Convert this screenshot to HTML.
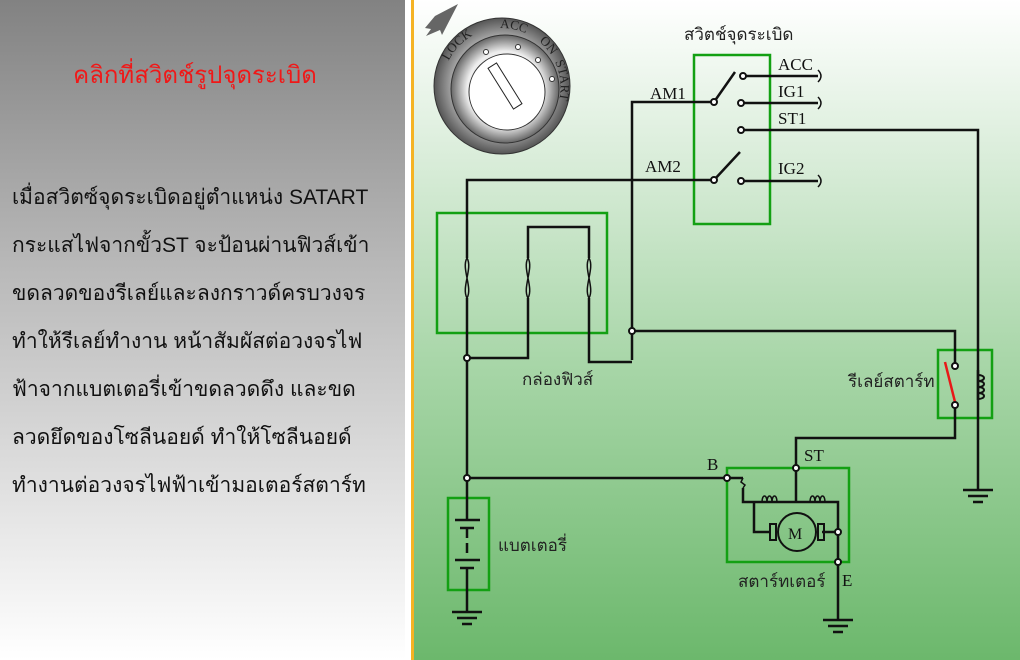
<!DOCTYPE html>
<html><head><meta charset="utf-8"><style>
html,body{margin:0;padding:0;}
body{width:1020px;height:660px;position:relative;overflow:hidden;font-family:"Liberation Sans","Noto Sans CJK SC",sans-serif;background:#fff;}
#left{position:absolute;left:0;top:0;width:405px;height:660px;background:linear-gradient(#828282,#b8b8b8 40%,#fff 100%);}
#title{position:absolute;left:0;width:390px;top:55px;text-align:center;color:#f01818;font-size:24px;}
#txt{position:absolute;left:12px;top:174px;font-size:21px;line-height:48px;color:#111;white-space:nowrap;}
#line{position:absolute;left:411px;top:0;width:3px;height:660px;background:#f5b324;}
#right{position:absolute;left:414px;top:0;width:606px;height:660px;background:linear-gradient(#fff 0%,#d8ecd8 25%,#a8d6a8 55%,#6cb86c 100%);}
svg{position:absolute;left:0;top:0;}
</style></head><body>
<div id="left"><div id="title">คลิกที่สวิตช์รูปจุดระเบิด</div>
<div id="txt">เมื่อสวิตซ์จุดระเบิดอยู่ตำแหน่ง SATART<br>กระแสไฟจากขั้วST จะป้อนผ่านฟิวส์เข้า<br>ขดลวดของรีเลย์และลงกราวด์ครบวงจร<br>ทำให้รีเลย์ทำงาน หน้าสัมผัสต่อวงจรไฟ<br>ฟ้าจากแบตเตอรี่เข้าขดลวดดึง และขด<br>ลวดยึดของโซลีนอยด์ ทำให้โซลีนอยด์<br>ทำงานต่อวงจรไฟฟ้าเข้ามอเตอร์สตาร์ท</div></div>
<div id="line"></div><div id="right"></div>
<svg width="1020" height="660" viewBox="0 0 1020 660">
<defs><radialGradient id="g1" cx="50%" cy="50%" r="50%"><stop offset="0.6" stop-color="#d0d0d0"/><stop offset="1" stop-color="#555"/></radialGradient>
<radialGradient id="g2" cx="50%" cy="50%" r="50%"><stop offset="0.7" stop-color="#eee"/><stop offset="1" stop-color="#666"/></radialGradient>
<path id="arc" d="M444,100 A59 59 0 1 1 544,128"/></defs>
<polygon points="458,4 435,16 425,28 431,29 426,36 440,30 442,35" fill="#666"/>
<circle cx="502" cy="86" r="68" fill="url(#g1)" stroke="#333"/>
<circle cx="505" cy="89" r="54" fill="url(#g2)" stroke="#333"/>
<circle cx="507" cy="92" r="38" fill="#fff" stroke="#333"/>
<rect x="500" y="62" width="10" height="48" fill="#fff" stroke="#222" transform="rotate(-32 505 86)"/>
<g fill="#fff" stroke="#333"><circle cx="486" cy="52" r="2.5"/><circle cx="518" cy="47" r="2.5"/><circle cx="538" cy="60" r="2.5"/><circle cx="552" cy="79" r="2.5"/></g>
<g font-family="Liberation Serif" font-size="13" fill="#222">
<text><textPath href="#arc" startOffset="40">LOCK</textPath></text>
<text><textPath href="#arc" startOffset="104">ACC</textPath></text>
<text><textPath href="#arc" startOffset="146">ON</textPath></text>
<text><textPath href="#arc" startOffset="172">START</textPath></text></g>
<g fill="none" stroke="#13a013" stroke-width="2.5">
<rect x="694" y="55" width="76" height="169"/>
<rect x="437" y="213" width="170" height="120"/>
<rect x="938" y="350" width="54" height="68"/>
<rect x="727" y="468" width="122" height="94"/>
<rect x="448" y="498" width="41" height="92"/></g>
<g fill="none" stroke="#111" stroke-width="2.5">
<path d="M632,360 V102 H714"/>
<path d="M467,258 V180 H714 M467,298 V520"/>
<path d="M714,102 L735,72 M714,180 L740,152"/>
<path d="M743,76 H818 M741,103 H818 M741,181 H818"/>
<path d="M741,130 H978 V490"/>
<path d="M528,298 V358 H467 M528,258 V227 H589 V258 M589,298 V362 H632"/>
<path d="M632,331 H955 V366"/>
<path d="M955,405 V438 H796 V502"/>
<path d="M467,478 H743 M743,488 V502 H838 V620"/>
<path d="M754,502 V532 H770 M822,532 H838"/>
<path d="M978,370 V400"/>
<path d="M455,520 H480 M460,528 H474 M467,528 V538 M467,543 V553 M455,560 H480 M460,568 H474 M467,568 V612"/>
<path d="M452,612 H482 M457,618 H477 M462,624 H472"/>
<path d="M823,620 H853 M828,626 H848 M833,632 H843"/>
<path d="M963,490 H993 M968,496 H988 M973,502 H983"/>
</g>
<g fill="none" stroke="#111" stroke-width="1.5">
<path d="M467,258 c-6,10 6,30 0,40 M467,258 c6,10 -6,30 0,40"/>
<path d="M528,258 c-6,10 6,30 0,40 M528,258 c6,10 -6,30 0,40"/>
<path d="M589,258 c-6,10 6,30 0,40 M589,258 c6,10 -6,30 0,40"/>
<path d="M743,478 l-2,4 l4,3 l-2,3"/>
<path d="M762,502 c0,-8 5,-8 5,0 c0,-8 5,-8 5,0 c0,-8 5,-8 5,0 M810,502 c0,-8 5,-8 5,0 c0,-8 5,-8 5,0 c0,-8 5,-8 5,0"/>
<path d="M978,375 c8,0 8,6 0,6 c8,0 8,6 0,6 c8,0 8,6 0,6 c8,0 8,6 0,6" stroke-width="2"/>
<path d="M818,70 q6,6 0,12 M818,97 q6,6 0,12 M818,175 q6,6 0,12"/>
</g>
<line x1="945" y1="362" x2="955" y2="402" stroke="#e81818" stroke-width="2.5"/>
<circle cx="797" cy="532" r="19" fill="none" stroke="#111" stroke-width="2"/>
<rect x="770" y="524" width="6" height="16" fill="none" stroke="#111" stroke-width="2"/>
<rect x="818" y="524" width="6" height="16" fill="none" stroke="#111" stroke-width="2"/>
<g fill="#fff" stroke="#111" stroke-width="2">
<circle cx="714" cy="102" r="3"/><circle cx="714" cy="180" r="3"/><circle cx="743" cy="76" r="3"/><circle cx="741" cy="103" r="3"/><circle cx="741" cy="130" r="3"/><circle cx="741" cy="181" r="3"/>
<circle cx="467" cy="358" r="3"/><circle cx="632" cy="331" r="3"/><circle cx="467" cy="478" r="3"/><circle cx="727" cy="478" r="3"/><circle cx="796" cy="468" r="3"/><circle cx="838" cy="532" r="3"/><circle cx="838" cy="562" r="3"/><circle cx="955" cy="366" r="3"/><circle cx="955" cy="405" r="3"/></g>
<g font-family="Liberation Serif" font-size="17" fill="#111">
<text x="650" y="99">AM1</text><text x="645" y="172">AM2</text><text x="778" y="70">ACC</text><text x="778" y="97">IG1</text><text x="778" y="124">ST1</text><text x="778" y="174">IG2</text>
<text x="707" y="470">B</text><text x="804" y="461">ST</text><text x="842" y="586">E</text><text x="788" y="539" font-size="16">M</text></g>
<g font-size="17" fill="#222" style="font-family:'Liberation Sans','Noto Sans CJK SC',sans-serif">
<text x="684" y="40">สวิตช์จุดระเบิด</text><text x="522" y="385">กล่องฟิวส์</text><text x="848" y="387">รีเลย์สตาร์ท</text><text x="738" y="587">สตาร์ทเตอร์</text><text x="498" y="551">แบตเตอรี่</text></g>
</svg>
</body></html>
